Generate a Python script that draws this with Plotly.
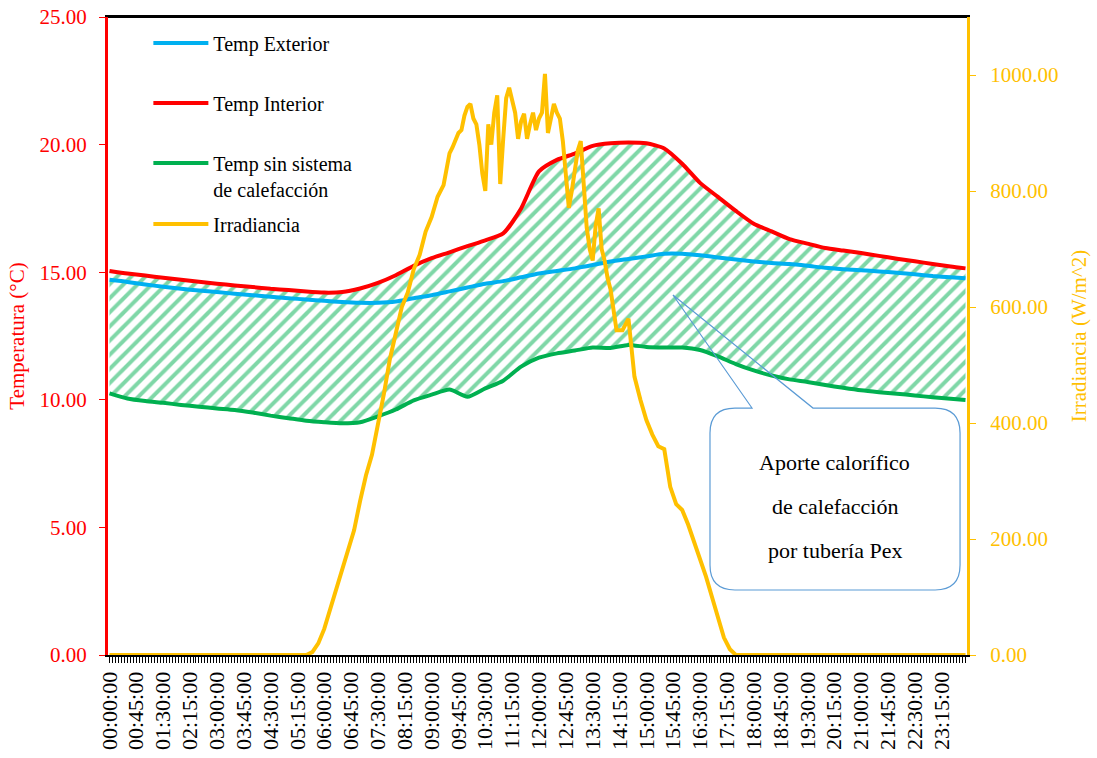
import plotly.graph_objects as go

# categorías cada 5 minutos (00:00:00 ... 23:55:00), etiqueta cada 45 min
horas = [f"{m // 60:02d}:{m % 60:02d}:00" for m in range(0, 1440, 5)]
etiquetas = [h if i % 9 == 0 else "" for i, h in enumerate(horas)]

# temperaturas (°C), lecturas cada 30 min
temp_horas = [f"{h:02d}:{m:02d}:00" for h in range(24) for m in (0, 30)] + ["23:55:00"]

temp_exterior = [14.70, 14.62, 14.52, 14.43, 14.35, 14.28, 14.22, 14.16, 14.10, 14.04,
                 13.98, 13.93, 13.88, 13.83, 13.80, 13.80, 13.85, 13.98, 14.10, 14.25,
                 14.40, 14.55, 14.65, 14.80, 14.95, 15.05, 15.15, 15.28, 15.42, 15.52,
                 15.62, 15.72, 15.72, 15.66, 15.58, 15.50, 15.42, 15.36, 15.32, 15.25,
                 15.17, 15.12, 15.08, 15.03, 14.98, 14.92, 14.85, 14.80, 14.76]

temp_interior = [15.05, 14.95, 14.87, 14.78, 14.70, 14.63, 14.55, 14.48, 14.42, 14.35,
                 14.30, 14.24, 14.20, 14.22, 14.36, 14.58, 14.88, 15.25, 15.55, 15.78,
                 16.02, 16.25, 16.52, 17.50, 18.95, 19.40, 19.65, 19.95, 20.05, 20.08,
                 20.05, 19.85, 19.25, 18.50, 17.95, 17.40, 16.90, 16.60, 16.30, 16.12,
                 15.95, 15.85, 15.75, 15.64, 15.53, 15.43, 15.32, 15.22, 15.15]

temp_sin_sistema = [10.25, 10.05, 9.95, 9.88, 9.80, 9.73, 9.66, 9.60, 9.50, 9.38,
                    9.28, 9.18, 9.12, 9.08, 9.12, 9.35, 9.62, 9.98, 10.20, 10.40,
                    10.12, 10.45, 10.75, 11.30, 11.65, 11.82, 11.93, 12.05, 12.03, 12.15,
                    12.07, 12.05, 12.05, 11.95, 11.70, 11.40, 11.15, 10.95, 10.80, 10.70,
                    10.58, 10.47, 10.37, 10.30, 10.24, 10.17, 10.10, 10.04, 9.99]

# irradiancia (W/m^2)
irr_horas = ["00:00", "05:30", "05:40", "05:50", "06:00", "06:10", "06:20", "06:30", "06:40",
             "06:50", "07:00", "07:10", "07:20", "07:30", "07:40", "07:50", "08:00", "08:10",
             "08:20", "08:30", "08:40", "08:50", "09:00", "09:10", "09:20",
             "09:30", "09:35", "09:40", "09:45", "09:50", "09:55", "10:00", "10:05", "10:10",
             "10:15", "10:20", "10:25", "10:30", "10:35", "10:40", "10:45", "10:50", "10:55",
             "11:00", "11:05", "11:10", "11:15", "11:20", "11:25", "11:30", "11:35", "11:40",
             "11:45", "11:50", "11:55", "12:00", "12:05", "12:10", "12:15", "12:20", "12:25",
             "12:30", "12:35", "12:40", "12:45", "12:50", "12:55", "13:00", "13:05", "13:10",
             "13:15", "13:20", "13:25", "13:30", "13:35", "13:40", "13:45", "13:50", "13:55",
             "14:00", "14:10", "14:20", "14:30", "14:40", "14:50", "15:00", "15:10", "15:20",
             "15:30", "15:40", "15:50", "16:00", "16:10", "16:20", "16:30", "16:40", "16:50",
             "17:00", "17:10", "17:20", "17:30", "23:55"]
irradiancia = [0, 0, 5, 20, 45, 80, 115, 145, 185,
               215, 265, 310, 345, 395, 450, 510, 555, 600,
               625, 665, 690, 730, 755, 790, 810,
               865, 875, 890, 900, 905, 930, 945, 950, 925,
               915, 880, 830, 800, 915, 880, 935, 965, 812,
               890, 960, 978, 955, 935, 890, 920, 933, 890,
               915, 935, 905, 925, 935, 1002, 900, 930, 950,
               935, 925, 886, 830, 771, 800, 840, 870, 886,
               800, 737, 700, 680, 740, 770, 700, 680, 650,
               630, 560, 560, 580, 480, 440, 405, 380, 360,
               355, 290, 260, 250, 225, 195, 170, 135, 100,
               65, 30, 10, 0, 0]
irr_horas = [h + ":00" for h in irr_horas]

AZUL = "#00B0F0"
ROJO = "#FF0000"
VERDE = "#00B050"
NARANJA = "#FFC000"
FUENTE = "Liberation Serif"

fig = go.Figure()

fig.add_trace(go.Scatter(x=temp_horas, y=temp_sin_sistema, mode="lines",
                         name="Temp sin sistema<br>de calefacción", legendgroup="c", legendrank=3,
                         line=dict(color=VERDE, width=4, shape="spline", smoothing=0.6)))
# zona rayada entre interior y sin sistema
fig.add_trace(go.Scatter(x=temp_horas, y=temp_interior, mode="lines", showlegend=False,
                         fill="tonexty", fillcolor="rgba(0,0,0,0)",
                         fillpattern=dict(shape="/", fgcolor=VERDE, bgcolor="rgba(0,0,0,0)",
                                          size=10, solidity=0.4),
                         line=dict(width=0, shape="spline", smoothing=0.6), hoverinfo="skip"))
fig.add_trace(go.Scatter(x=temp_horas, y=temp_exterior, mode="lines",
                         name="Temp Exterior", legendgroup="a", legendrank=1,
                         line=dict(color=AZUL, width=4, shape="spline", smoothing=0.6)))
fig.add_trace(go.Scatter(x=temp_horas, y=temp_interior, mode="lines",
                         name="Temp Interior", legendgroup="b", legendrank=2,
                         line=dict(color=ROJO, width=4, shape="spline", smoothing=0.6)))
fig.add_trace(go.Scatter(x=irr_horas, y=irradiancia, mode="lines", yaxis="y2",
                         name="Irradiancia", legend="legend2",
                         line=dict(color=NARANJA, width=4)))

# borde superior del área de trazado
fig.add_shape(type="line", xref="paper", yref="paper", x0=0, x1=1, y0=1, y1=1,
              line=dict(color="black", width=2))

# globo de texto
x0, x1, yt, yb = 0.7008, 0.9919, 0.3871, 0.1019
rx, ry = 0.029, 0.039
globo = (f"M {x0 + rx},{yt} L 0.7497,{yt} L 0.6577,0.5643 L 0.8207,{yt} L {x1 - rx},{yt} "
         f"Q {x1},{yt} {x1},{yt - ry} L {x1},{yb + ry} Q {x1},{yb} {x1 - rx},{yb} "
         f"L {x0 + rx},{yb} Q {x0},{yb} {x0},{yb + ry} L {x0},{yt - ry} "
         f"Q {x0},{yt} {x0 + rx},{yt} Z")
fig.add_shape(type="path", xref="paper", yref="paper", path=globo,
              line=dict(color="#5B9BD5", width=1.2), fillcolor="rgba(0,0,0,0)")
for i, linea in enumerate(["Aporte calorífico", "de calefacción", "por tubería Pex"]):
    fig.add_annotation(xref="paper", yref="paper", x=0.8463, y=0.302 - i * 0.069,
                       xanchor="center", yanchor="middle",
                       text=linea, showarrow=False,
                       font=dict(family=FUENTE, size=22, color="black"))

leyenda = dict(xanchor="left", yanchor="top", bgcolor="rgba(0,0,0,0)",
               font=dict(family=FUENTE, size=20, color="black"),
               itemwidth=55, valign="top")

fig.update_layout(
    width=1097, height=758,
    margin=dict(l=108, r=130, t=17, b=103, autoexpand=False),
    paper_bgcolor="white", plot_bgcolor="white",
    font=dict(family=FUENTE, size=21, color="black"),
    showlegend=True,
    legend=dict(leyenda, x=0.047, y=0.99, traceorder="grouped", tracegroupgap=31),
    legend2=dict(leyenda, x=0.047, y=0.706),
    xaxis=dict(type="category", categoryorder="array", categoryarray=horas,
               range=[-0.5, len(horas) - 0.5], automargin=False,
               tickmode="array", tickvals=horas, ticktext=etiquetas, tickangle=-90,
               ticks="outside", ticklen=6, tickwidth=1, tickcolor="black",
               tickfont=dict(family=FUENTE, size=22, color="black"),
               showline=True, linecolor="black", linewidth=2, mirror=True,
               showgrid=False, zeroline=False),
    yaxis=dict(range=[0, 25], dtick=5, tickformat=".2f", automargin=False,
               ticklabeloverflow="allow",
               ticks="outside", ticklen=6, tickcolor=ROJO, ticklabelstandoff=8,
               tickfont=dict(family=FUENTE, size=21, color=ROJO),
               showline=True, linecolor=ROJO, linewidth=3,
               showgrid=False, zeroline=False,
               title=dict(text="Temperatura (°C)", font=dict(family=FUENTE, size=21, color=ROJO),
                          standoff=10)),
    yaxis2=dict(overlaying="y", side="right", range=[0, 1100], dtick=200, tickformat=".2f",
                automargin=False, ticklabeloverflow="allow",
                ticks="outside", ticklen=6, tickcolor=NARANJA, ticklabelstandoff=10,
                tickfont=dict(family=FUENTE, size=21, color=NARANJA),
                showline=True, linecolor=NARANJA, linewidth=3,
                showgrid=False, zeroline=False,
                title=dict(text="Irradiancia (W/m^2)", font=dict(family=FUENTE, size=21, color=NARANJA),
                           standoff=14)),
)

# quitar el margen de 8 px que el navegador pone al body
fig.write_html("out.html", config={"displayModeBar": False},
               post_script="document.body.style.margin = '0';")
